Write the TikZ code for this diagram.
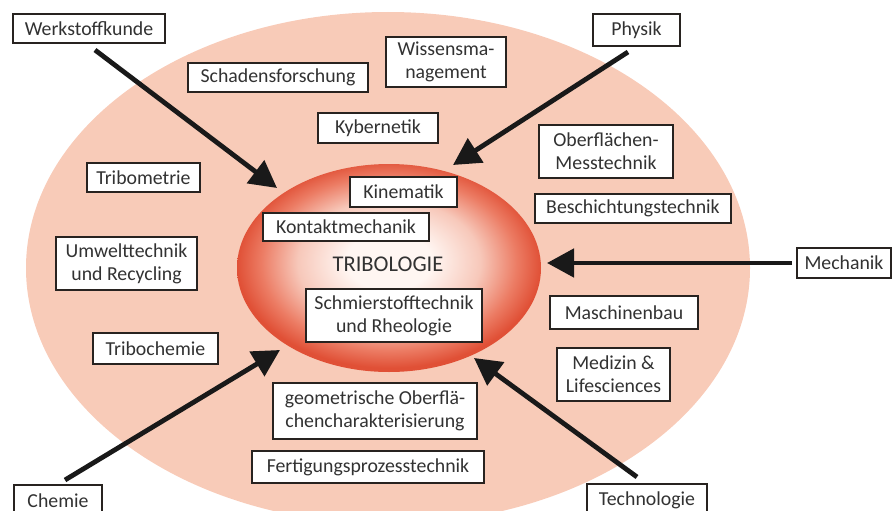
\documentclass[tikz,border=0pt]{standalone}
\usepackage{fontspec}
\setmainfont{Carlito}
\usetikzlibrary{arrows.meta}
\definecolor{outerc}{RGB}{248,203,184}
\definecolor{cA}{RGB}{255,246,242}
\definecolor{cB}{RGB}{247,200,186}
\definecolor{cC}{RGB}{236,124,100}
\definecolor{cD}{RGB}{224,80,54}
\definecolor{txtc}{RGB}{50,50,50}
\definecolor{boxc}{RGB}{40,35,32}
\pgfdeclareradialshading{tribshade}{\pgfpoint{0bp}{2bp}}{color(0bp)=(cA); color(7bp)=(cA); color(15bp)=(cB); color(21bp)=(cC); color(25bp)=(cD); color(50bp)=(cD)}
\newcommand\boxfont{\fontsize{19.8}{23}\selectfont}
\tikzset{
  box/.style={draw=boxc, line width=1.6pt, fill=white, inner sep=0pt, align=center, font=\boxfont, text=txtc},
  arr/.style={line width=4.8pt, draw=black!90, -{Triangle[length=27pt,width=28pt]}}
}
\begin{document}
\begin{tikzpicture}[x=1pt,y=-1pt]
\useasboundingbox (0,0) rectangle (894,511);
\clip (0,0) rectangle (894,511);
% ellipses
\fill[outerc] (388,268) ellipse [x radius=362pt, y radius=256pt];
\shade[shading=tribshade] (389,268) ellipse [x radius=152pt, y radius=104pt];
% boxes
\node[box, minimum width=152pt, minimum height=29pt] (werk) at (89,28.5) {Werkstoffkunde};
\node[box, minimum width=180pt, minimum height=29pt] (schad) at (278,77.5) {Schadensforschung};
\node[box, minimum width=120pt, minimum height=50pt] (wiss) at (446,62) {Wissensma-\\nagement};
\node[box, minimum width=87pt, minimum height=32pt] (phys) at (636.5,30) {Physik};
\node[box, minimum width=120pt, minimum height=30pt] (kyb) at (378,128) {Kybernetik};
\node[box, minimum width=134pt, minimum height=53pt] (ober) at (606,151.5) {Oberflächen-\\Messtechnik};
\node[box, minimum width=196pt, minimum height=29pt] (besch) at (633,208.5) {Beschichtungstechnik};
\node[box, minimum width=113pt, minimum height=29pt] (tribom) at (143.5,177.5) {Tribometrie};
\node[box, minimum width=107pt, minimum height=30pt] (kin) at (403.5,192) {Kinematik};
\node[box, minimum width=166pt, minimum height=28pt] (kont) at (346,227) {Kontaktmechanik};
\node[box, minimum width=141pt, minimum height=53pt] (umw) at (126.5,263.5) {Umwelttechnik\\und Recycling};
\node[box, minimum width=176pt, minimum height=53pt] (schm) at (394,315.5) {Schmierstofftechnik\\und Rheologie};
\node[box, minimum width=94pt, minimum height=30pt] (mech) at (844,263) {Mechanik};
\node[box, minimum width=148pt, minimum height=33pt] (masch) at (624,312.5) {Maschinenbau};
\node[box, minimum width=113pt, minimum height=53pt] (med) at (613.5,374.5) {Medizin \&\\Lifesciences};
\node[box, minimum width=125pt, minimum height=31pt] (tchem) at (155.5,348.5) {Tribochemie};
\node[box, minimum width=204pt, minimum height=56pt] (geo) at (375,411) {geometrische Oberflä-\\chencharakterisierung};
\node[box, minimum width=232pt, minimum height=32pt] (fert) at (368,467) {Fertigungsprozesstechnik};
\node[box, minimum width=88pt, minimum height=31pt] (chem) at (58,500.5) {Chemie};
\node[box, minimum width=120pt, minimum height=32pt] (tech) at (647,500) {Technologie};
% center label
\node[font=\fontsize{22.5}{26}\selectfont, text=txtc] (trib) at (388,264) {TRIBOLOGIE};
% arrow coordinates
\coordinate (sW) at (95,50);   \coordinate (tW) at (277,188);
\coordinate (sP) at (628,52);  \coordinate (tP) at (453,165);
\coordinate (sM) at (792,263); \coordinate (tM) at (547,263);
\coordinate (sT) at (637,477); \coordinate (tT) at (474,358);
\coordinate (sC) at (65,480);  \coordinate (tC) at (280,350);
\draw[arr] (sW) -- (tW);
\draw[arr] (sP) -- (tP);
\draw[arr] (sM) -- (tM);
\draw[arr] (sT) -- (tT);
\draw[arr] (sC) -- (tC);
\end{tikzpicture}
\end{document}
